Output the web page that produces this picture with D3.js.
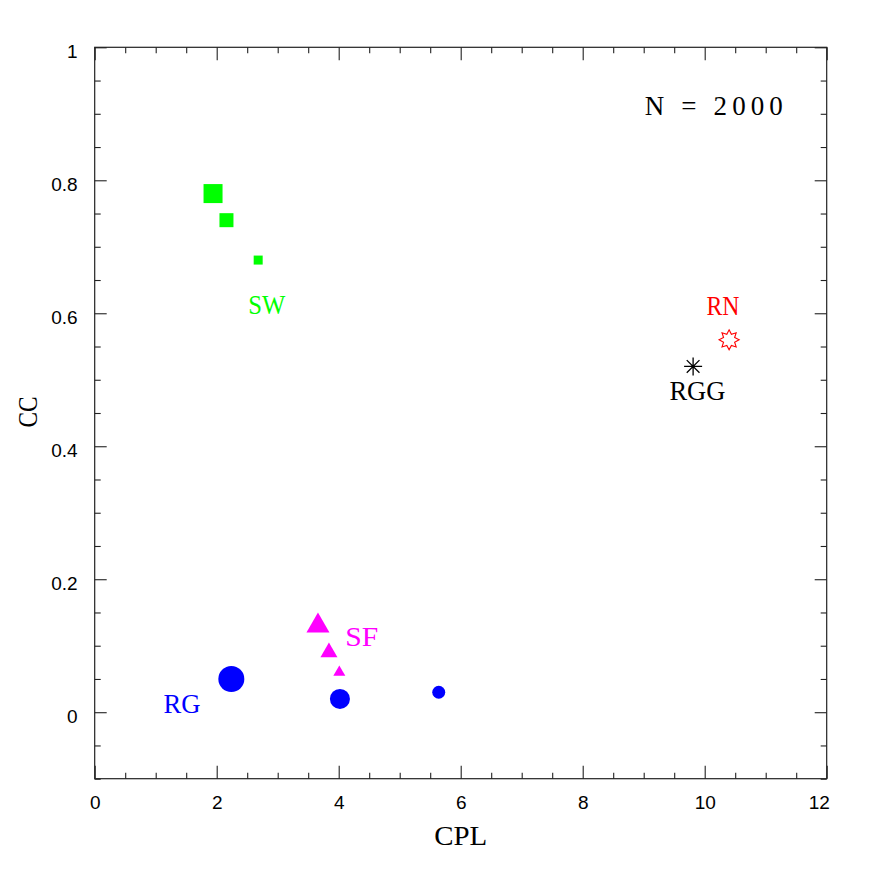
<!DOCTYPE html>
<html>
<head>
<meta charset="utf-8">
<script src="https://cdn.jsdelivr.net/npm/d3@7"></script>
<style>
  html, body { margin: 0; padding: 0; background: #fff; }
  svg { display: block; }
</style>
</head>
<body>
<svg id="chart" width="872" height="872"></svg>
<script>
// ---- data ----
const swCPL = [1.94, 2.16, 2.68];
const swCC  = [0.78, 0.74, 0.68];
const sfCPL = [3.66, 3.84, 4.01];
const sfCC  = [0.13, 0.09, 0.06];
const rgCPL = [2.24, 4.02, 5.64];
const rgCC  = [0.05, 0.02, 0.03];
const rnCPL = [10.40];
const rnCC  = [0.56];
const rggCPL = [9.81];
const rggCC  = [0.52];
const xTicks = [0, 2, 4, 6, 8, 10, 12];
const yTicks = [0, 0.2, 0.4, 0.6, 0.8, 1];
const labelText = ["SW", "SF", "RG", "RN", "RGG"];
const labelCPL  = [2.82, 4.38, 1.43, 10.30, 9.88];
const labelCC   = [0.599, 0.099, -0.001, 0.598, 0.469];
const annotation = "N = 2000";
const annotationCPL = 10.15, annotationCC = 0.898;

// ---- styles ----
const swSize = [19, 14, 9];      // square side
const sfSize = [23, 17, 12];     // triangle width
const rgSize = [26, 20, 13];     // circle diameter
const labelColor = ["#00ff00", "#ff00ff", "#0000ff", "#ff0000", "#000000"];
const labelWidth = [37, 33, 37, 33, 56];

const svg = d3.select("#chart");
const L = 94.7, R = 826.7, T = 47.3, B = 778.7;
const x = d3.scaleLinear().domain([0, 12]).range([L, R]);
const y = d3.scaleLinear().domain([-0.1, 1]).range([B, T]);

const axisColor = "#222";
const minorX = d3.range(0, 12.001, 0.5).filter(v => Math.abs(v % 2) > 1e-6);
const minorY = d3.range(-0.1, 1.0001, 0.05).map(v => +v.toFixed(2)).filter(v => Math.abs((v / 0.2) - Math.round(v / 0.2)) > 1e-6);

function styleAxis(g) {
  g.attr("font-size", 19).attr("font-family", "Liberation Sans, Arial, sans-serif");
  g.select(".domain").remove();
  g.selectAll("line").attr("stroke", axisColor).attr("stroke-width", 1.1);
  g.selectAll("text").attr("fill", "#000");
}

// bottom
svg.append("g").attr("transform", `translate(0,${B})`)
  .call(d3.axisBottom(x).tickValues(xTicks).tickSize(-13).tickSizeOuter(0).tickPadding(17).tickFormat(d3.format("d")))
  .call(styleAxis)
  .call(g => g.selectAll(".tick").filter(d => d === 12).select("text").attr("dx", -8));
svg.append("g").attr("transform", `translate(0,${B})`)
  .call(d3.axisBottom(x).tickValues(minorX).tickSize(-6).tickSizeOuter(0).tickFormat(""))
  .call(styleAxis);
// top
svg.append("g").attr("transform", `translate(0,${T})`)
  .call(d3.axisTop(x).tickValues(xTicks).tickSize(-13).tickSizeOuter(0).tickFormat(""))
  .call(styleAxis);
svg.append("g").attr("transform", `translate(0,${T})`)
  .call(d3.axisTop(x).tickValues(minorX).tickSize(-6).tickSizeOuter(0).tickFormat(""))
  .call(styleAxis);
// left
svg.append("g").attr("transform", `translate(${L},0)`)
  .call(d3.axisLeft(y).tickValues(yTicks).tickSize(-12).tickSizeOuter(0).tickPadding(17).tickFormat(d => String(+d.toFixed(1))))
  .call(styleAxis)
  .call(g => g.selectAll("text").attr("dy", "0.55em"));
svg.append("g").attr("transform", `translate(${L},0)`)
  .call(d3.axisLeft(y).tickValues(minorY).tickSize(-6).tickSizeOuter(0).tickFormat(""))
  .call(styleAxis);
// right
svg.append("g").attr("transform", `translate(${R},0)`)
  .call(d3.axisRight(y).tickValues(yTicks).tickSize(-12).tickSizeOuter(0).tickFormat(""))
  .call(styleAxis);
svg.append("g").attr("transform", `translate(${R},0)`)
  .call(d3.axisRight(y).tickValues(minorY).tickSize(-6).tickSizeOuter(0).tickFormat(""))
  .call(styleAxis);

// frame
svg.append("rect").attr("x", L).attr("y", T).attr("width", R - L).attr("height", B - T)
  .attr("fill", "none").attr("stroke", axisColor).attr("stroke-width", 1.2);

// axis titles
const serif = "Liberation Serif, Times New Roman, serif";
svg.append("text").attr("x", x(6)).attr("y", 845).attr("text-anchor", "middle")
  .attr("font-family", serif).attr("font-size", 27)
  .attr("textLength", 53).attr("lengthAdjust", "spacingAndGlyphs").text("CPL");
svg.append("text").attr("transform", `translate(37,412) rotate(-90)`).attr("text-anchor", "middle")
  .attr("font-family", serif).attr("font-size", 27)
  .attr("textLength", 31).attr("lengthAdjust", "spacingAndGlyphs").text("CC");

// SW squares
svg.append("g").selectAll("rect").data(swCPL).join("rect")
  .attr("x", (d, i) => x(d) - swSize[i] / 2)
  .attr("y", (d, i) => y(swCC[i]) - swSize[i] / 2)
  .attr("width", (d, i) => swSize[i]).attr("height", (d, i) => swSize[i])
  .attr("fill", "#00ff00");

// SF triangles (centroid at point)
svg.append("g").selectAll("path").data(sfCPL).join("path")
  .attr("d", (d, i) => {
    const w = sfSize[i], h = w * Math.sqrt(3) / 2;
    const cx = x(d), cy = y(sfCC[i]);
    return `M${cx},${cy - 2 * h / 3}L${cx + w / 2},${cy + h / 3}L${cx - w / 2},${cy + h / 3}Z`;
  })
  .attr("fill", "#ff00ff");

// RG circles
svg.append("g").selectAll("circle").data(rgCPL).join("circle")
  .attr("cx", d => x(d)).attr("cy", (d, i) => y(rgCC[i]))
  .attr("r", (d, i) => rgSize[i] / 2).attr("fill", "#0000ff");

// RN star (8-pointed, outlined)
svg.append("g").selectAll("path").data(rnCPL).join("path")
  .attr("d", (d, i) => {
    const cx = x(d), cy = y(rnCC[i]);
    const pts = [];
    for (let k = 0; k < 16; k++) {
      const r = k % 2 === 0 ? 10 : 6;
      const a = -Math.PI / 2 + k * Math.PI / 8;
      pts.push([cx + r * Math.cos(a), cy + r * Math.sin(a)]);
    }
    return "M" + pts.map(p => p.join(",")).join("L") + "Z";
  })
  .attr("fill", "#fff").attr("stroke", "#ff0000").attr("stroke-width", 1.1);

// RGG asterisk
svg.append("g").selectAll("path").data(rggCPL).join("path")
  .attr("d", (d, i) => {
    const cx = x(d), cy = y(rggCC[i]), r = 9;
    let s = "";
    for (let k = 0; k < 4; k++) {
      const a = k * Math.PI / 4;
      s += `M${cx - r * Math.cos(a)},${cy - r * Math.sin(a)}L${cx + r * Math.cos(a)},${cy + r * Math.sin(a)}`;
    }
    return s;
  })
  .attr("stroke", "#000").attr("stroke-width", 1.3).attr("fill", "none");

// labels
svg.append("g").selectAll("text").data(labelText).join("text")
  .attr("x", (d, i) => x(labelCPL[i])).attr("y", (d, i) => y(labelCC[i]))
  .attr("text-anchor", "middle").attr("font-family", serif).attr("font-size", 27)
  .attr("fill", (d, i) => labelColor[i])
  .attr("textLength", (d, i) => labelWidth[i]).attr("lengthAdjust", "spacingAndGlyphs")
  .text(d => d);

// N = 2000
svg.append("text").attr("x", x(annotationCPL)).attr("y", y(annotationCC))
  .attr("text-anchor", "middle").attr("font-family", serif).attr("font-size", 27)
  .attr("textLength", 138).attr("lengthAdjust", "spacing").attr("xml:space", "preserve")
  .text(annotation);
</script>
</body>
</html>
